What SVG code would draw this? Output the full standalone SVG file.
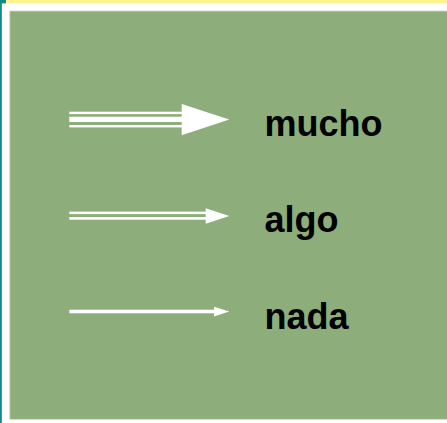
<svg xmlns="http://www.w3.org/2000/svg" width="447" height="423" viewBox="0 0 447 423">
  <style>
    .panel { fill: #8dad7b; stroke: #cfd6cb; stroke-width: 0.8; }
    .ln { fill: #ffffff; }
    .head { fill: #ffffff; }
    .lbl { font-family: "Liberation Sans", Arial, sans-serif; font-weight: bold; font-size: 36px; fill: #000000; }
  </style>

  <!-- page background and frame accents -->
  <rect x="0" y="0" width="447" height="423" fill="#ffffff"/>
  <rect x="6" y="0" width="441" height="3.4" fill="#fff38f"/>
  <rect x="0" y="0" width="6" height="3.4" fill="#11898a"/>
  <rect x="0" y="0" width="1.8" height="423" fill="#11898a"/>

  <!-- legend panel -->
  <rect class="panel" x="9.8" y="11" width="440" height="408.3"/>

  <!-- strong flow: triple line -->
  <g id="mucho">
    <rect class="ln" x="69.3" y="111.7" width="113" height="2.4"/>
    <rect class="ln" x="69.3" y="116.7" width="113" height="5.3"/>
    <rect class="ln" x="69.3" y="125" width="113" height="2.4"/>
    <polygon class="head" points="181.7,104 229.3,119.5 181.7,135.3"/>
    <text class="lbl" x="264.5" y="135.5">mucho</text>
  </g>

  <!-- medium flow: double line -->
  <g id="algo">
    <rect class="ln" x="69.3" y="211.6" width="137" height="2.5"/>
    <rect class="ln" x="69.3" y="217" width="137" height="2.7"/>
    <polygon class="head" points="205.7,208.3 229.3,216 205.7,223.7"/>
    <text class="lbl" x="264.5" y="231.5">algo</text>
  </g>

  <!-- weak flow: single line -->
  <g id="nada">
    <rect class="ln" x="69.3" y="309.7" width="145" height="3.6"/>
    <polygon class="head" points="214,306.7 229.3,311.5 214,316.5"/>
    <text class="lbl" x="264.5" y="328.5">nada</text>
  </g>
</svg>
